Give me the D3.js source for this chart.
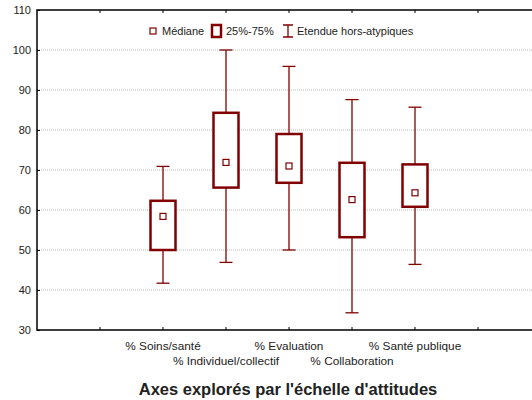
<!DOCTYPE html>
<html>
<head>
<meta charset="utf-8">
<title>Axes explorés</title>
<style>
body { margin: 0; background: #fff; }
svg text { font-family: Arial, "Liberation Sans", sans-serif; fill: #222; }
.grid line { stroke: #bbb; stroke-dasharray: 1,1; }
</style>
<script src="https://cdn.jsdelivr.net/npm/d3@7"></script>
</head>
<body>
<div id="chart"></div>
<script>
// data
var categories = ["% Soins/santé", "% Individuel/collectif", "% Evaluation", "% Collaboration", "% Santé publique"];
var positions  = [2, 3, 4, 5, 6];
var medians    = [58.4, 71.9, 71.0, 62.6, 64.3];
var q1         = [50.0, 65.6, 66.8, 53.2, 60.8];
var q3         = [62.3, 84.3, 79.0, 71.8, 71.4];
var lowW       = [41.7, 46.9, 50.0, 34.3, 46.4];
var highW      = [70.9, 100.0, 95.9, 87.6, 85.7];
var yTicks     = [30, 40, 50, 60, 70, 80, 90, 100, 110];

var W = 532, H = 400;
var color = "#800000";
var svg = d3.select("#chart").append("svg").attr("width", W).attr("height", H);

var x = d3.scaleLinear().domain([0, 8]).range([37, 541]);
var y = d3.scaleLinear().domain([30, 110]).range([330, 10]);

// gridlines
svg.append("g").attr("class", "grid")
  .selectAll("line").data(yTicks.filter(function(d){ return d > 30 && d < 110; }))
  .enter().append("line")
  .attr("x1", 37).attr("x2", W).attr("y1", function(d){ return y(d); }).attr("y2", function(d){ return y(d); });

// frame
svg.append("path")
  .attr("d", "M" + W + "," + y(110) + "H37V" + y(30) + "H" + W)
  .attr("fill", "none").attr("stroke", "#000").attr("stroke-width", 1.5);

// y axis
var yAxis = d3.axisLeft(y).tickValues(yTicks).tickSize(-3).tickPadding(6);
var gy = svg.append("g").attr("transform", "translate(37,0)").call(yAxis);
gy.select(".domain").remove();
gy.selectAll("line").attr("stroke", "#000");
gy.selectAll("text").attr("font-size", 11).style("font-family", "Arial, 'Liberation Sans', sans-serif").attr("fill", "#222");

// x ticks, top and bottom, inward
var xt = d3.range(1, 8);
svg.append("g").selectAll("line").data(xt).enter().append("line")
  .attr("x1", function(d){ return x(d); }).attr("x2", function(d){ return x(d); })
  .attr("y1", y(110)).attr("y2", y(110) + 3).attr("stroke", "#000");
svg.append("g").selectAll("line").data(xt).enter().append("line")
  .attr("x1", function(d){ return x(d); }).attr("x2", function(d){ return x(d); })
  .attr("y1", y(30)).attr("y2", y(30) - 3).attr("stroke", "#000");

// x labels, staggered
svg.append("g").selectAll("text").data(categories).enter().append("text")
  .attr("x", function(d, i){ return x(positions[i]); })
  .attr("y", function(d, i){ return i % 2 === 0 ? 350 : 365; })
  .attr("text-anchor", "middle").attr("font-size", 11.8)
  .text(function(d){ return d; });

// title
svg.append("text").attr("x", 288).attr("y", 395).attr("text-anchor", "middle")
  .attr("font-size", 16.5).attr("font-weight", "bold").attr("fill", "#111")
  .text("Axes explorés par l'échelle d'attitudes");

// boxes
var boxW = 25, capW = 13;
var g = svg.append("g").selectAll("g").data(categories).enter().append("g");
g.append("line")
  .attr("x1", function(d, i){ return x(positions[i]); }).attr("x2", function(d, i){ return x(positions[i]); })
  .attr("y1", function(d, i){ return y(highW[i]); }).attr("y2", function(d, i){ return y(q3[i]); })
  .attr("stroke", color).attr("stroke-width", 1.3);
g.append("line")
  .attr("x1", function(d, i){ return x(positions[i]); }).attr("x2", function(d, i){ return x(positions[i]); })
  .attr("y1", function(d, i){ return y(q1[i]); }).attr("y2", function(d, i){ return y(lowW[i]); })
  .attr("stroke", color).attr("stroke-width", 1.3);
g.append("line")
  .attr("x1", function(d, i){ return x(positions[i]) - capW / 2; }).attr("x2", function(d, i){ return x(positions[i]) + capW / 2; })
  .attr("y1", function(d, i){ return y(highW[i]); }).attr("y2", function(d, i){ return y(highW[i]); })
  .attr("stroke", color).attr("stroke-width", 1.3);
g.append("line")
  .attr("x1", function(d, i){ return x(positions[i]) - capW / 2; }).attr("x2", function(d, i){ return x(positions[i]) + capW / 2; })
  .attr("y1", function(d, i){ return y(lowW[i]); }).attr("y2", function(d, i){ return y(lowW[i]); })
  .attr("stroke", color).attr("stroke-width", 1.3);
g.append("rect")
  .attr("x", function(d, i){ return x(positions[i]) - boxW / 2; })
  .attr("y", function(d, i){ return y(q3[i]); })
  .attr("width", boxW)
  .attr("height", function(d, i){ return y(q1[i]) - y(q3[i]); })
  .attr("fill", "#fff").attr("stroke", color).attr("stroke-width", 2.5);
g.append("rect")
  .attr("x", function(d, i){ return x(positions[i]) - 3; })
  .attr("y", function(d, i){ return y(medians[i]) - 3; })
  .attr("width", 6).attr("height", 6)
  .attr("fill", "#fff").attr("stroke", color).attr("stroke-width", 1.2);

// legend
var lg = svg.append("g").attr("font-size", 11);
lg.append("rect").attr("x", 150).attr("y", 28).attr("width", 6).attr("height", 6)
  .attr("fill", "#fff").attr("stroke", color).attr("stroke-width", 1.2);
lg.append("text").attr("x", 162).attr("y", 35).attr("font-size", 11).text("Médiane");
lg.append("rect").attr("x", 212).attr("y", 25).attr("width", 9).attr("height", 12)
  .attr("fill", "#fff").attr("stroke", color).attr("stroke-width", 2.5);
lg.append("text").attr("x", 226).attr("y", 35).attr("font-size", 11).text("25%-75%");
lg.append("path").attr("d", "M283,25H293M288,25V37M283,37H293")
  .attr("fill", "none").attr("stroke", color).attr("stroke-width", 1.3);
lg.append("text").attr("x", 297).attr("y", 35).attr("font-size", 11).text("Etendue hors-atypiques");
</script>
</body>
</html>
